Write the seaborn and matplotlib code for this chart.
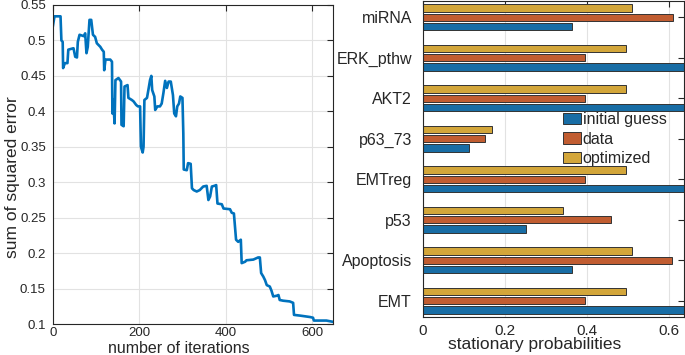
import matplotlib
matplotlib.use("Agg")
import matplotlib.pyplot as plt
import pandas as pd
import seaborn as sns

# convergence of the optimisation
iterations = [0, 4, 18, 20, 23, 24, 28, 34, 36, 48, 52, 56, 58, 62, 72, 75, 78, 81, 85, 89,
              93, 98, 102, 110, 114, 118, 119, 122, 133, 137, 138, 140, 143, 145, 152, 158,
              159, 164, 166, 173, 175, 183, 187, 193, 197, 202, 204, 208, 210, 212, 218, 222,
              225, 228, 230, 235, 237, 242, 248, 252, 256, 260, 264, 268, 273, 278, 281, 285,
              288, 292, 295, 300, 302, 303, 310, 313, 319, 322, 326, 333, 340, 348, 356, 360,
              364, 368, 374, 378, 381, 391, 395, 410, 414, 419, 424, 429, 435, 437, 445, 448,
              464, 475, 479, 482, 487, 491, 495, 502, 506, 510, 518, 522, 525, 533, 548, 556,
              558, 572, 595, 602, 604, 633, 650]
sq_error = [0.519, 0.534, 0.534, 0.500, 0.498, 0.461, 0.468, 0.468, 0.487, 0.489, 0.477, 0.476,
            0.498, 0.508, 0.506, 0.510, 0.482, 0.491, 0.529, 0.529, 0.508, 0.505, 0.496, 0.491,
            0.487, 0.484, 0.458, 0.473, 0.473, 0.470, 0.397, 0.416, 0.383, 0.444, 0.447, 0.442,
            0.381, 0.379, 0.435, 0.437, 0.419, 0.416, 0.414, 0.409, 0.407, 0.407, 0.350, 0.342,
            0.350, 0.416, 0.419, 0.433, 0.444, 0.450, 0.430, 0.421, 0.402, 0.407, 0.407, 0.411,
            0.426, 0.443, 0.433, 0.442, 0.442, 0.423, 0.397, 0.393, 0.407, 0.411, 0.421, 0.419,
            0.369, 0.318, 0.317, 0.327, 0.326, 0.2915, 0.289, 0.287, 0.289, 0.294, 0.295, 0.275,
            0.280, 0.294, 0.295, 0.296, 0.270, 0.269, 0.263, 0.262, 0.257, 0.256, 0.219, 0.216,
            0.219, 0.186, 0.188, 0.190, 0.191, 0.194, 0.194, 0.172, 0.167, 0.162, 0.155, 0.153,
            0.147, 0.139, 0.140, 0.141, 0.134, 0.133, 0.132, 0.130, 0.113, 0.112, 0.110, 0.109,
            0.105, 0.105, 0.103]

# stationary probabilities (right panel), top to bottom
nodes = ["miRNA", "ERK_pthw", "AKT2", "p63_73", "EMTreg", "p53", "Apoptosis", "EMT"]
initial_guess = [0.364, 0.70, 0.70, 0.111, 0.70, 0.252, 0.364, 0.70]
data_vals = [0.609, 0.394, 0.394, 0.150, 0.394, 0.458, 0.607, 0.394]
optimized = [0.509, 0.494, 0.494, 0.168, 0.494, 0.340, 0.509, 0.494]

series_names = ["initial guess", "data", "optimized"]
colors = {"initial guess": "#0072BD", "data": "#D95319", "optimized": "#EDB120"}

sns.set_style("white")
plt.rcParams["font.family"] = ["Liberation Sans", "DejaVu Sans"]

fig = plt.figure(figsize=(6.85, 3.55), dpi=100)
ax1 = fig.add_axes([0.077, 0.087, 0.409, 0.899])
ax2 = fig.add_axes([0.6175, 0.107, 0.381, 0.890])

# left: error curve
conv = pd.DataFrame({"iter": iterations, "err": sq_error})
sns.lineplot(data=conv, x="iter", y="err", ax=ax1, color="#0072BD", linewidth=1.9,
             estimator=None, sort=True)
ax1.set_xlim(0, 648)
ax1.set_ylim(0.1, 0.55)
ax1.set_xticks([0, 200, 400, 600])
ax1.set_yticks([0.1, 0.15, 0.2, 0.25, 0.3, 0.35, 0.4, 0.45, 0.5, 0.55])
ax1.set_yticklabels(["0.1", "0.15", "0.2", "0.25", "0.3", "0.35", "0.4", "0.45", "0.5", "0.55"])
ax1.grid(True, color="#e2e2e2", linewidth=0.8)
ax1.set_axisbelow(True)
ax1.set_xlabel("number of iterations", fontsize=11.5)
ax1.set_ylabel("sum of squared error", fontsize=12.5)
ax1.xaxis.set_label_coords(0.45, -0.052)
ax1.yaxis.set_label_coords(-0.118, 0.462)
ax1.tick_params(direction="in", length=4, labelsize=9.5, top=True, right=True,
                color="#262626", labelcolor="#262626")
ax1.tick_params(axis="x", pad=2)
ax1.tick_params(axis="y", pad=5)

# right: grouped horizontal bars
rows = []
for name, vals in zip(series_names, [initial_guess, data_vals, optimized]):
    for node, v in zip(nodes, vals):
        rows.append({"node": node, "series": name, "prob": v})
probs = pd.DataFrame(rows)

sns.barplot(data=probs, y="node", x="prob", hue="series", order=nodes,
            hue_order=["optimized", "data", "initial guess"], palette=colors,
            orient="h", width=0.68, gap=0.2, edgecolor="#333333", linewidth=0.7,
            ax=ax2, legend=True)
ax2.set_xlim(0, 0.636)
ax2.set_ylim(len(nodes) - 0.6, -0.4)
ax2.set_xticks([0, 0.2, 0.4, 0.6])
ax2.set_xticklabels(["0", "0.2", "0.4", "0.6"])
ax2.grid(True, axis="x", color="#e2e2e2", linewidth=0.8)
ax2.set_axisbelow(True)
ax2.set_xlabel("stationary probabilities", fontsize=12.5)
ax2.set_ylabel("")
ax2.xaxis.set_label_coords(0.427, -0.064)
ax2.tick_params(axis="x", direction="in", length=4, labelsize=11, top=True,
                color="#262626", labelcolor="#262626", pad=5)
ax2.tick_params(axis="y", direction="in", length=4, labelsize=11.5, right=True,
                color="#262626", labelcolor="#262626", pad=8)

handles, labels = ax2.get_legend_handles_labels()
lookup = dict(zip(labels, handles))
ax2.legend([lookup[n] for n in series_names], series_names, loc="upper left",
           bbox_to_anchor=(0.538, 0.648), frameon=False, fontsize=11.5,
           handlelength=1.12, handleheight=0.7, handletextpad=0.08,
           labelspacing=0.27, borderpad=0, borderaxespad=0)

for ax in (ax1, ax2):
    for sp in ax.spines.values():
        sp.set_color("#262626")
        sp.set_linewidth(0.8)

fig.savefig("out.png", dpi=100)
